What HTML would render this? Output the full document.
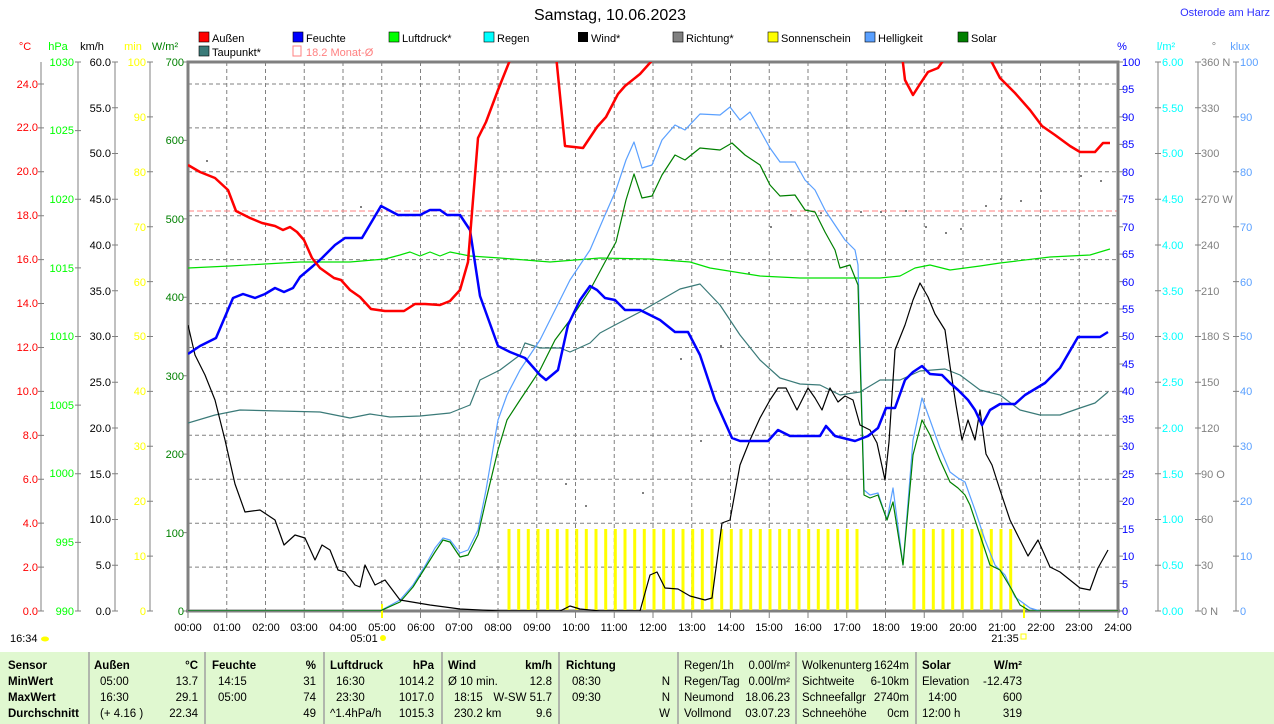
<!DOCTYPE html>
<html><head><meta charset="utf-8"><style>
html,body{margin:0;padding:0;background:#fff;width:1274px;height:724px;overflow:hidden}
svg{display:block;font-family:"Liberation Sans",sans-serif;font-size:12px}
</style></head><body>
<svg width="1274" height="724" viewBox="0 0 1274 724">
<defs><clipPath id="pc"><rect x="188" y="62" width="930" height="549"/></clipPath></defs>
<text x="610" y="20" font-size="16" text-anchor="middle">Samstag, 10.06.2023</text>
<text x="1270" y="16" font-size="11" fill="#3030ff" text-anchor="end">Osterode am Harz</text>
<g font-size="11">
<rect x="199" y="32" width="10" height="10" fill="#f00" stroke="#000" stroke-width="0.6"/><text x="212" y="42">Außen</text>
<rect x="293" y="32" width="10" height="10" fill="#00f" stroke="#000" stroke-width="0.6"/><text x="306" y="42">Feuchte</text>
<rect x="389" y="32" width="10" height="10" fill="#0f0" stroke="#000" stroke-width="0.6"/><text x="402" y="42">Luftdruck*</text>
<rect x="484" y="32" width="10" height="10" fill="#0ff" stroke="#000" stroke-width="0.6"/><text x="497" y="42">Regen</text>
<rect x="578" y="32" width="10" height="10" fill="#000"/><text x="591" y="42">Wind*</text>
<rect x="673" y="32" width="10" height="10" fill="#808080" stroke="#000" stroke-width="0.6"/><text x="686" y="42">Richtung*</text>
<rect x="768" y="32" width="10" height="10" fill="#ff0" stroke="#000" stroke-width="0.6"/><text x="781" y="42">Sonnenschein</text>
<rect x="865" y="32" width="10" height="10" fill="#5aa0ff" stroke="#000" stroke-width="0.6"/><text x="878" y="42">Helligkeit</text>
<rect x="958" y="32" width="10" height="10" fill="#008000" stroke="#000" stroke-width="0.6"/><text x="971" y="42">Solar</text>
<rect x="199" y="46" width="10" height="10" fill="#3a7a78" stroke="#000" stroke-width="0.6"/><text x="212" y="56">Taupunkt*</text>
<rect x="293" y="46" width="8" height="10" fill="none" stroke="#ff8080"/><text x="306" y="56" fill="#ff8080">18.2 Monat-Ø</text>
</g>
<g font-size="11">
<text x="25" y="50" fill="#f00" text-anchor="middle">°C</text>
<text x="58" y="50" fill="#0f0" text-anchor="middle">hPa</text>
<text x="92" y="50" text-anchor="middle">km/h</text>
<text x="133" y="50" fill="#ff0" text-anchor="middle">min</text>
<text x="165" y="50" fill="#008000" text-anchor="middle">W/m²</text>
<text x="1122" y="50" fill="#00f" text-anchor="middle">%</text>
<text x="1166" y="50" fill="#0ff" text-anchor="middle">l/m²</text>
<text x="1214" y="50" fill="#808080" text-anchor="middle">°</text>
<text x="1240" y="50" fill="#5aa0ff" text-anchor="middle">klux</text>
</g>
<g stroke="#808080" stroke-dasharray="4,3" stroke-width="1">
<path d="M226.75 62V611M265.5 62V611M304.25 62V611M343 62V611M381.75 62V611M420.5 62V611M459.25 62V611M498 62V611M536.75 62V611M575.5 62V611M614.25 62V611M653 62V611M691.75 62V611M730.5 62V611M769.25 62V611M808 62V611M846.75 62V611M885.5 62V611M924.25 62V611M963 62V611M1001.75 62V611M1040.5 62V611M1079.25 62V611"/>
<path d="M188 84H1118M188 127.9H1118M188 171.8H1118M188 215.7H1118M188 259.6H1118M188 303.6H1118M188 347.5H1118M188 391.4H1118M188 435.3H1118M188 479.2H1118M188 523.2H1118M188 567.1H1118"/>
</g>
<line x1="188" y1="211" x2="1118" y2="211" stroke="#ff8080" stroke-dasharray="6,3"/>
<g stroke="#808080" stroke-width="1" fill="none">
<path d="M41 62V611M78 62V611M115 62V611M150 62V611"/>
<path d="M1158 62V611M1198 62V611M1236 62V611"/>
</g>
<!-- ticks -->
<g stroke="#808080" fill="none">
<line x1="41" y1="611.5" x2="41" y2="60" stroke-width="6" stroke-dasharray="1,42.92"/>
<line x1="78" y1="611.5" x2="78" y2="60" stroke-width="6" stroke-dasharray="1,67.62"/>
<line x1="115" y1="611.5" x2="115" y2="60" stroke-width="6" stroke-dasharray="1,44.75"/>
<line x1="150" y1="611.5" x2="150" y2="60" stroke-width="6" stroke-dasharray="1,53.9"/>
<line x1="186" y1="611.5" x2="186" y2="60" stroke-width="6" stroke-dasharray="1,77.43"/>
<line x1="1120" y1="611.5" x2="1120" y2="60" stroke-width="6" stroke-dasharray="1,26.45"/>
<line x1="1158" y1="611.5" x2="1158" y2="60" stroke-width="6" stroke-dasharray="1,44.75"/>
<line x1="1198" y1="611.5" x2="1198" y2="60" stroke-width="6" stroke-dasharray="1,44.75"/>
<line x1="1236" y1="611.5" x2="1236" y2="60" stroke-width="6" stroke-dasharray="1,53.9"/>
<line x1="187.5" y1="615" x2="1120" y2="615" stroke-width="6" stroke-dasharray="1,37.75"/>
</g>
<path d="M188 611V62H1118V611" stroke="#808080" stroke-width="3" fill="none"/>
<line x1="186" y1="611" x2="1120" y2="611" stroke="#808080" stroke-width="3"/>
<g font-size="11" text-anchor="end">
<g fill="#f00"><text x="38" y="615">0.0</text><text x="38" y="571">2.0</text><text x="38" y="527">4.0</text><text x="38" y="483">6.0</text><text x="38" y="439">8.0</text><text x="38" y="395">10.0</text><text x="38" y="351">12.0</text><text x="38" y="307">14.0</text><text x="38" y="263">16.0</text><text x="38" y="219">18.0</text><text x="38" y="175">20.0</text><text x="38" y="131">22.0</text><text x="38" y="88">24.0</text></g>
<g fill="#0f0"><text x="74" y="615">990</text><text x="74" y="546">995</text><text x="74" y="477">1000</text><text x="74" y="409">1005</text><text x="74" y="340">1010</text><text x="74" y="272">1015</text><text x="74" y="203">1020</text><text x="74" y="134">1025</text><text x="74" y="66">1030</text></g>
<g fill="#000"><text x="111" y="615">0.0</text><text x="111" y="569">5.0</text><text x="111" y="523">10.0</text><text x="111" y="478">15.0</text><text x="111" y="432">20.0</text><text x="111" y="386">25.0</text><text x="111" y="340">30.0</text><text x="111" y="295">35.0</text><text x="111" y="249">40.0</text><text x="111" y="203">45.0</text><text x="111" y="157">50.0</text><text x="111" y="112">55.0</text><text x="111" y="66">60.0</text></g>
<g fill="#ff0"><text x="146" y="615">0</text><text x="146" y="560">10</text><text x="146" y="505">20</text><text x="146" y="450">30</text><text x="146" y="395">40</text><text x="146" y="340">50</text><text x="146" y="286">60</text><text x="146" y="231">70</text><text x="146" y="176">80</text><text x="146" y="121">90</text><text x="146" y="66">100</text></g>
<g fill="#008000"><text x="184" y="615">0</text><text x="184" y="537">100</text><text x="184" y="458">200</text><text x="184" y="380">300</text><text x="184" y="301">400</text><text x="184" y="223">500</text><text x="184" y="144">600</text><text x="184" y="66">700</text></g>
</g>
<g font-size="11">
<g fill="#00f"><text x="1122" y="615">0</text><text x="1122" y="588">5</text><text x="1122" y="560">10</text><text x="1122" y="533">15</text><text x="1122" y="505">20</text><text x="1122" y="478">25</text><text x="1122" y="450">30</text><text x="1122" y="423">35</text><text x="1122" y="395">40</text><text x="1122" y="368">45</text><text x="1122" y="340">50</text><text x="1122" y="313">55</text><text x="1122" y="286">60</text><text x="1122" y="258">65</text><text x="1122" y="231">70</text><text x="1122" y="203">75</text><text x="1122" y="176">80</text><text x="1122" y="148">85</text><text x="1122" y="121">90</text><text x="1122" y="93">95</text><text x="1122" y="66">100</text></g>
<g fill="#0ff"><text x="1162" y="615">0.00</text><text x="1162" y="569">0.50</text><text x="1162" y="523">1.00</text><text x="1162" y="478">1.50</text><text x="1162" y="432">2.00</text><text x="1162" y="386">2.50</text><text x="1162" y="340">3.00</text><text x="1162" y="295">3.50</text><text x="1162" y="249">4.00</text><text x="1162" y="203">4.50</text><text x="1162" y="157">5.00</text><text x="1162" y="112">5.50</text><text x="1162" y="66">6.00</text></g>
<g fill="#808080"><text x="1201" y="615">0  N</text><text x="1201" y="569">30</text><text x="1201" y="523">60</text><text x="1201" y="478">90  O</text><text x="1201" y="432">120</text><text x="1201" y="386">150</text><text x="1201" y="340">180 S</text><text x="1201" y="295">210</text><text x="1201" y="249">240</text><text x="1201" y="203">270 W</text><text x="1201" y="157">300</text><text x="1201" y="112">330</text><text x="1201" y="66">360 N</text></g>
<g fill="#5aa0ff"><text x="1240" y="615">0</text><text x="1240" y="560">10</text><text x="1240" y="505">20</text><text x="1240" y="450">30</text><text x="1240" y="395">40</text><text x="1240" y="340">50</text><text x="1240" y="286">60</text><text x="1240" y="231">70</text><text x="1240" y="176">80</text><text x="1240" y="121">90</text><text x="1240" y="66">100</text></g>
</g>
<g font-size="11" text-anchor="middle">
<text x="188" y="631">00:00</text><text x="227" y="631">01:00</text><text x="266" y="631">02:00</text><text x="304" y="631">03:00</text><text x="343" y="631">04:00</text><text x="382" y="631">05:00</text><text x="421" y="631">06:00</text><text x="459" y="631">07:00</text><text x="498" y="631">08:00</text><text x="537" y="631">09:00</text><text x="576" y="631">10:00</text><text x="614" y="631">11:00</text><text x="653" y="631">12:00</text><text x="692" y="631">13:00</text><text x="731" y="631">14:00</text><text x="769" y="631">15:00</text><text x="808" y="631">16:00</text><text x="847" y="631">17:00</text><text x="886" y="631">18:00</text><text x="924" y="631">19:00</text><text x="963" y="631">20:00</text><text x="1002" y="631">21:00</text><text x="1041" y="631">22:00</text><text x="1079" y="631">23:00</text><text x="1118" y="631">24:00</text>
<text x="364" y="642">05:01</text><text x="1005" y="642">21:35</text>
</g>
<text x="10" y="642" font-size="11">16:34</text><ellipse cx="45" cy="639" rx="4" ry="2.5" fill="#ff0"/>
<circle cx="383" cy="638" r="3" fill="#ff0"/><rect x="1021" y="634" width="5" height="5" fill="none" stroke="#ff0"/>
<line x1="382" y1="604" x2="382" y2="618" stroke="#ff0" stroke-width="2"/>
<line x1="1024" y1="604" x2="1024" y2="618" stroke="#ff0" stroke-width="2"/>
<g clip-path="url(#pc)">
<g stroke="#ff0" stroke-width="3">
<path d="M509 529V610M518.7 529V610M528.3 529V610M538 529V610M547.7 529V610M557.3 529V610M567 529V610M576.7 529V610M586.3 529V610M596 529V610M605.7 529V610M615.3 529V610M625 529V610M634.7 529V610M644.3 529V610M654 529V610M663.7 529V610M673.3 529V610M683 529V610M692.7 529V610M702.3 529V610M712 529V610M721.7 529V610M731.3 529V610M741 529V610M750.7 529V610M760.3 529V610M770 529V610M779.7 529V610M789.3 529V610M799 529V610M808.7 529V610M818.3 529V610M828 529V610M837.7 529V610M847.3 529V610M857 529V610"/>
<path d="M914 529V610M923.7 529V610M933.3 529V610M943 529V610M952.7 529V610M962.3 529V610M972 529V610M981.7 529V610M991.3 529V610M1001 529V610M1010.7 529V610"/>
</g>
<g fill="#808080">
<rect x="206" y="160" width="2" height="2"/><rect x="360" y="206" width="2" height="2"/><rect x="565" y="483" width="2" height="2"/><rect x="585" y="505" width="2" height="2"/><rect x="642" y="492" width="2" height="2"/><rect x="680" y="358" width="2" height="2"/><rect x="700" y="440" width="2" height="2"/><rect x="720" y="345" width="2" height="2"/><rect x="748" y="272" width="2" height="2"/><rect x="770" y="226" width="2" height="2"/><rect x="790" y="214" width="2" height="2"/><rect x="820" y="212" width="2" height="2"/><rect x="860" y="211" width="2" height="2"/><rect x="880" y="211" width="2" height="2"/><rect x="905" y="210" width="2" height="2"/><rect x="925" y="226" width="2" height="2"/><rect x="945" y="232" width="2" height="2"/><rect x="960" y="228" width="2" height="2"/><rect x="985" y="205" width="2" height="2"/><rect x="1000" y="198" width="2" height="2"/><rect x="1020" y="200" width="2" height="2"/><rect x="1040" y="190" width="2" height="2"/><rect x="1080" y="175" width="2" height="2"/><rect x="1100" y="180" width="2" height="2"/>
</g>
<g fill="none" stroke-linejoin="round">
<polyline stroke="#3a7a78" stroke-width="1.2" points="188,423 215,415 240,410 320,412 350,418 370,414 390,417 420,416 450,413 470,405 480,380 500,370 520,355 525,343 540,348 560,348 570,352 590,343 600,333 615,325 640,312 680,289 700,284 720,305 740,335 760,360 780,378 800,384 820,385 840,395 860,392 880,380 900,380 920,371 945,369 960,375 980,390 1000,395 1020,410 1040,415 1060,415 1080,408 1095,403 1108,392"/>
<polyline stroke="#00e000" stroke-width="1.2" points="188,268 230,266 300,262 350,262 385,259 400,255 410,252 420,256 430,252 440,256 450,252 470,256 500,258 550,262 600,258 650,259 690,262 710,268 760,276 800,278 880,278 900,276 915,268 930,265 950,270 980,266 1000,263 1050,257 1090,255 1110,249"/>
<polyline stroke="#5aa0ff" stroke-width="1.2" points="188,611 380,611 400,600 413,585 425,566 435,548 443,538 450,540 460,553 468,550 478,530 486,490 498,420 507,395 520,370 540,340 555,310 570,280 590,250 605,215 616,190 626,160 634,142 642,168 652,165 662,140 675,125 685,130 700,114 720,115 730,107 740,120 750,112 760,130 770,148 780,162 795,162 805,180 815,190 825,210 835,225 845,240 855,250 858,265 864,490 870,495 878,493 887,520 893,488 903,565 913,440 922,398 930,420 940,448 950,472 958,478 965,482 975,510 985,540 995,565 1005,575 1015,597 1030,608 1040,611"/>
<polyline stroke="#008000" stroke-width="1.2" points="188,611 380,611 400,602 413,587 425,568 435,552 443,540 450,542 460,557 468,555 478,535 486,500 498,450 507,420 520,400 540,370 555,340 570,320 590,290 605,262 616,242 626,200 634,174 642,198 652,196 662,175 675,155 685,160 700,148 720,150 732,143 745,155 760,165 770,185 780,196 795,195 805,210 815,212 825,232 835,250 840,268 850,265 858,285 864,495 870,498 878,495 887,520 893,502 903,565 913,455 922,420 930,435 940,460 950,482 958,488 965,495 970,505 980,535 990,565 1000,570 1012,590 1020,605 1030,611 1118,611"/>
<polyline stroke="#000" stroke-width="1.2" points="188,325 195,355 205,375 215,400 225,440 235,484 245,512 260,510 275,520 284,545 295,535 305,538 315,560 322,545 330,550 338,570 345,572 355,585 360,587 365,565 375,585 385,580 400,600 430,605 460,609 500,611 560,611 570,606 580,609 600,611 640,611 650,575 657,572 665,588 678,589 690,596 705,600 712,598 722,523 730,520 740,465 750,440 760,418 770,400 778,388 786,388 797,410 808,388 815,398 822,410 830,388 838,402 845,396 853,400 860,425 870,430 877,443 885,480 889,442 895,350 905,325 913,300 920,283 928,297 935,314 945,330 950,366 956,405 962,440 968,420 975,440 980,410 986,454 992,465 1000,490 1010,520 1020,540 1028,556 1038,540 1050,567 1060,572 1070,580 1080,588 1090,590 1098,568 1108,550"/>
<polyline stroke="#0000ff" stroke-width="2.5" points="188,354 200,346 216,338 233,298 243,294 255,298 265,294 275,288 284,292 293,288 300,277 313,266 322,258 335,245 345,238 362,238 381,206 398,215 420,215 430,210 440,210 447,215 460,215 470,230 480,296 498,346 510,352 525,358 540,375 546,380 558,370 568,325 580,300 590,286 597,290 605,298 615,300 625,310 640,310 660,320 675,332 688,332 700,355 715,400 732,438 740,441 768,441 778,430 790,436 820,436 826,426 835,436 855,441 868,436 878,428 886,408 895,408 905,380 913,372 922,366 930,374 942,375 950,383 958,390 968,400 975,410 982,425 990,410 1000,404 1015,404 1025,395 1045,383 1060,368 1078,337 1100,337 1108,332"/>
<polyline stroke="#ff0000" stroke-width="2.5" points="188,165 200,172 215,178 228,190 236,211 250,218 262,223 275,226 283,230 290,227 297,232 304,240 312,258 320,268 334,278 341,280 350,290 360,297 371,309 385,311 404,311 415,304 425,304 440,305 450,301 460,290 468,262 478,138 486,122 498,90 512,55"/>
<polyline stroke="#ff0000" stroke-width="2.5" points="556,55 565,146 583,148 597,127 606,117 618,94 625,86 640,74 657,55"/>
<polyline stroke="#ff0000" stroke-width="2.5" points="902,55 905,80 913,95 920,84 928,72 938,68 947,55"/>
<polyline stroke="#ff0000" stroke-width="2.5" points="988,55 1000,78 1015,93 1030,110 1042,126 1055,135 1070,146 1080,152 1095,152 1103,143 1110,143"/>
</g>
</g>
<rect x="0" y="652" width="1274" height="72" fill="#e0f8d0"/>
<g stroke="#a0a0a0" stroke-width="1.5"><path d="M89 652V724M205 652V724M324 652V724M442 652V724M559 652V724M678 652V724M796 652V724M916 652V724"/></g>
<g font-size="11.5">
<g font-weight="bold"><text x="8" y="669">Sensor</text><text x="8" y="685">MinWert</text><text x="8" y="701">MaxWert</text><text x="8" y="717">Durchschnitt</text>
<text x="94" y="669">Außen</text><text x="198" y="669" text-anchor="end">°C</text>
<text x="212" y="669">Feuchte</text><text x="316" y="669" text-anchor="end">%</text>
<text x="330" y="669">Luftdruck</text><text x="434" y="669" text-anchor="end">hPa</text>
<text x="448" y="669">Wind</text><text x="552" y="669" text-anchor="end">km/h</text>
<text x="566" y="669">Richtung</text>
<text x="922" y="669">Solar</text><text x="1022" y="669" text-anchor="end">W/m²</text></g>
<text x="100" y="685">05:00</text><text x="198" y="685" text-anchor="end">13.7</text>
<text x="100" y="701">16:30</text><text x="198" y="701" text-anchor="end">29.1</text>
<text x="100" y="717">(+ 4.16 )</text><text x="198" y="717" text-anchor="end">22.34</text>
<text x="218" y="685">14:15</text><text x="316" y="685" text-anchor="end">31</text>
<text x="218" y="701">05:00</text><text x="316" y="701" text-anchor="end">74</text>
<text x="316" y="717" text-anchor="end">49</text>
<text x="336" y="685">16:30</text><text x="434" y="685" text-anchor="end">1014.2</text>
<text x="336" y="701">23:30</text><text x="434" y="701" text-anchor="end">1017.0</text>
<text x="330" y="717">^1.4hPa/h</text><text x="434" y="717" text-anchor="end">1015.3</text>
<text x="448" y="685">Ø 10 min.</text><text x="552" y="685" text-anchor="end">12.8</text>
<text x="454" y="701">18:15</text><text x="552" y="701" text-anchor="end">W-SW 51.7</text>
<text x="454" y="717">230.2 km</text><text x="552" y="717" text-anchor="end">9.6</text>
<text x="572" y="685">08:30</text><text x="572" y="701">09:30</text>
<text x="670" y="685" text-anchor="end">N</text><text x="670" y="701" text-anchor="end">N</text><text x="670" y="717" text-anchor="end">W</text>
<text x="684" y="669">Regen/1h</text><text x="790" y="669" text-anchor="end">0.00l/m²</text>
<text x="684" y="685">Regen/Tag</text><text x="790" y="685" text-anchor="end">0.00l/m²</text>
<text x="684" y="701">Neumond</text><text x="790" y="701" text-anchor="end">18.06.23</text>
<text x="684" y="717">Vollmond</text><text x="790" y="717" text-anchor="end">03.07.23</text>
<text x="802" y="669" textLength="70" lengthAdjust="spacingAndGlyphs">Wolkenunterg</text><text x="909" y="669" text-anchor="end">1624m</text>
<text x="802" y="685">Sichtweite</text><text x="909" y="685" text-anchor="end">6-10km</text>
<text x="802" y="701" textLength="64" lengthAdjust="spacingAndGlyphs">Schneefallgr</text><text x="909" y="701" text-anchor="end">2740m</text>
<text x="802" y="717">Schneehöhe</text><text x="909" y="717" text-anchor="end">0cm</text>
<text x="922" y="685">Elevation</text><text x="1022" y="685" text-anchor="end">-12.473</text>
<text x="928" y="701">14:00</text><text x="1022" y="701" text-anchor="end">600</text>
<text x="922" y="717">12:00 h</text><text x="1022" y="717" text-anchor="end">319</text>
</g>
</svg>
</body></html>
